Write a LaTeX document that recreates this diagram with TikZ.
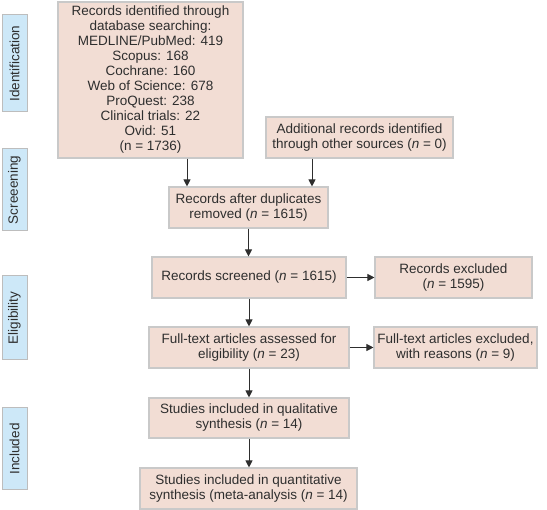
\documentclass[tikz,border=0pt]{standalone}
\usepackage{fontspec}
\setmainfont{Liberation Sans}
\usetikzlibrary{arrows.meta}
\definecolor{boxfill}{HTML}{F2DDD4}
\definecolor{boxline}{HTML}{C9C9C9}
\definecolor{labfill}{HTML}{CDE8F8}
\definecolor{labline}{HTML}{BDBDBD}
\definecolor{txt}{HTML}{2E2E2E}
\begin{document}
\begin{tikzpicture}[x=1pt,y=-1pt,
  every node/.style={font=\fontsize{13.5}{15}\selectfont, text=txt, inner sep=0pt, align=center},
  stagebox/.style={draw=boxline, fill=boxfill, line width=1.1pt},
  phase/.style={draw=labline, fill=labfill, line width=1pt, rotate=90, minimum height=25},
  arr/.style={draw=txt, line width=1pt, -{Triangle[length=7pt,width=7pt]}}]
\useasboundingbox (0,0) rectangle (547,510);
\node[phase, minimum width=97] (lid) at (14.5,63.5) {Identification};
\node[phase, minimum width=82] (lsc) at (14.5,190) {Screeening};
\node[phase, minimum width=84] (lel) at (14.5,318) {Eligibility};
\node[phase, minimum width=82] (lin) at (14.5,449) {Included};
\node[stagebox, minimum width=185, minimum height=156] (b1) at (150.5,80)
  {Records identified through\\database searching:\\MEDLINE/PubMed: 419\\Scopus: 168\\Cochrane: 160\\Web of Science: 678\\ProQuest: 238\\Clinical trials: 22\\Ovid: 51\\(n = 1736)};
\node[stagebox, minimum width=187, minimum height=41] (add) at (359.5,137.5)
  {Additional records identified\\through other sources (\textit{n} = 0)};
\node[stagebox, minimum width=159, minimum height=41] (dup) at (248.5,207.5)
  {Records after duplicates\\removed (\textit{n} = 1615)};
\node[stagebox, minimum width=194, minimum height=41] (scr) at (249,277.5)
  {Records screened (\textit{n} = 1615)};
\node[stagebox, minimum width=157, minimum height=41] (exc) at (453.5,277.5)
  {Records excluded\\(\textit{n} = 1595)};
\node[stagebox, minimum width=200, minimum height=41] (ft) at (249,347.5)
  {Full-text articles assessed for\\eligibility (\textit{n} = 23)};
\node[stagebox, minimum width=163, minimum height=41] (ftx) at (455.5,347.5)
  {Full-text articles excluded,\\with reasons (\textit{n} = 9)};
\node[stagebox, minimum width=200, minimum height=40] (qual) at (249,418)
  {Studies included in qualitative\\synthesis (\textit{n} = 14)};
\node[stagebox, minimum width=217, minimum height=41] (quant) at (248.5,488.5)
  {Studies included in quantitative\\synthesis (meta-analysis (\textit{n} = 14)};
\coordinate (c1) at (187,0);
\coordinate (c2) at (312,0);
\draw[arr] (b1.south -| c1) -- (dup.north -| c1);
\draw[arr] (add.south -| c2) -- (dup.north -| c2);
\draw[arr] (dup.south) -- (scr.north -| dup.south);
\draw[arr] (scr.south) -- (ft.north);
\draw[arr] (ft.south) -- (qual.north);
\draw[arr] (qual.south) -- (quant.north -| qual.south);
\draw[arr] (scr.east) -- (exc.west);
\draw[arr] (ft.east) -- (ftx.west);
\end{tikzpicture}
\end{document}
